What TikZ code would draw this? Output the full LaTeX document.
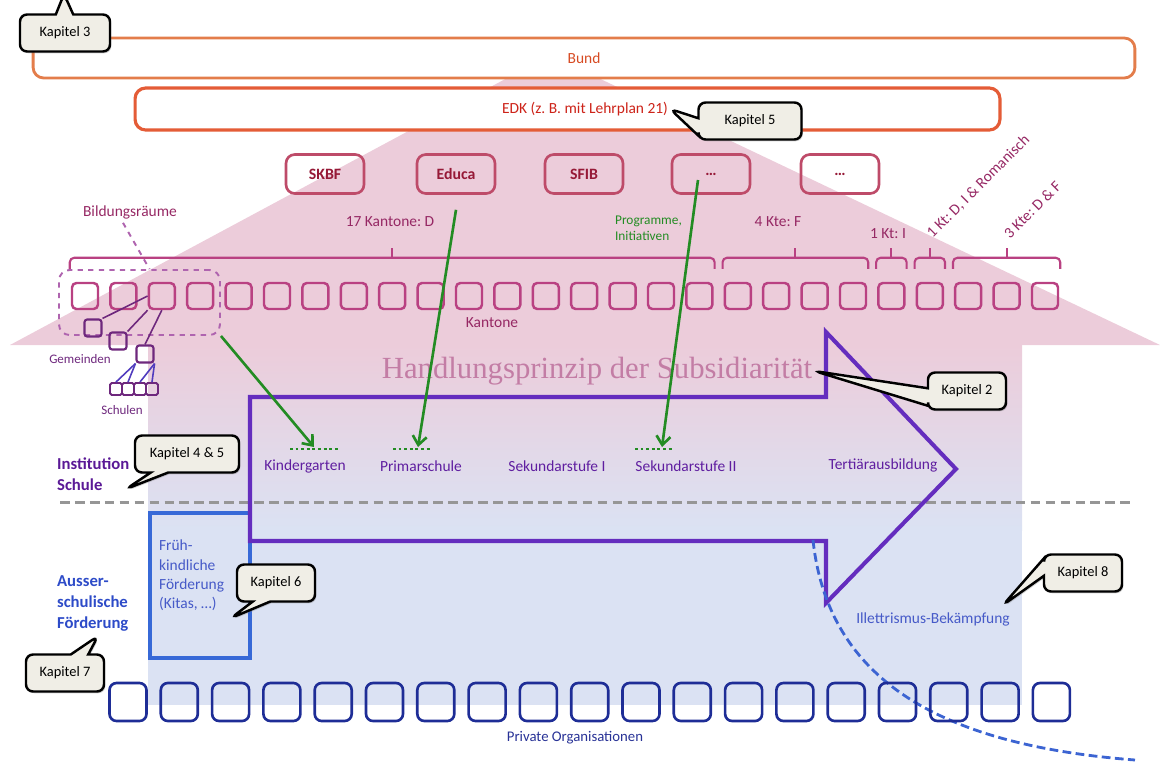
\documentclass[tikz,border=0pt]{standalone}
\usepackage{fontspec}
\setmainfont{Carlito}
\newfontfamily\prinzipfont{Liberation Serif}
\usetikzlibrary{positioning,calc,shapes.callouts,shadows,arrows.meta}
\frenchspacing

\definecolor{roofpink}{RGB}{236,204,218}
\definecolor{bodyblue}{RGB}{219,226,243}
\definecolor{bundcol}{RGB}{227,125,75}
\definecolor{bundtext}{RGB}{215,75,35}
\definecolor{edkcol}{RGB}{228,92,55}
\definecolor{edktext}{RGB}{205,35,25}
\definecolor{orgcol}{RGB}{190,75,105}
\definecolor{orgtext}{RGB}{150,25,55}
\definecolor{kantcol}{RGB}{185,65,130}
\definecolor{kanttext}{RGB}{150,40,100}
\definecolor{bildcol}{RGB}{175,100,175}
\definecolor{gemcol}{RGB}{110,40,125}
\definecolor{schulcol}{RGB}{80,60,190}
\definecolor{gcol}{RGB}{35,140,35}
\definecolor{prinzcol}{RGB}{195,125,165}
\definecolor{pfeilcol}{RGB}{100,45,190}
\definecolor{stufecol}{RGB}{95,30,160}
\definecolor{instcol}{RGB}{90,25,150}
\definecolor{fruehcol}{RGB}{55,105,215}
\definecolor{fruehtext}{RGB}{70,90,200}
\definecolor{aussercol}{RGB}{45,75,200}
\definecolor{privcol}{RGB}{30,45,150}
\definecolor{privtext}{RGB}{40,50,150}
\definecolor{illcol}{RGB}{60,100,210}
\definecolor{calloutbg}{RGB}{240,238,230}
\definecolor{sepcol}{RGB}{150,150,150}

\tikzset{
  lbl/.style={font=\fontsize{8.8}{10.5}\selectfont, inner sep=1pt},
  boldlbl/.style={font=\bfseries\fontsize{9.5}{12}\selectfont, inner sep=1pt, align=left},
  stufe/.style={lbl, text=stufecol},
  orgbox/.style={draw=orgcol, line width=1.5pt, rounded corners=5pt, minimum width=1.56cm,
    minimum height=0.78cm, text=orgtext, font=\bfseries\fontsize{9}{11}\selectfont},
  kanton/.style={draw=kantcol, line width=1.4pt, rounded corners=2.5pt, minimum size=0.52cm, inner sep=0pt},
  gemeinde/.style={draw=gemcol, line width=1.2pt, rounded corners=1.5pt, minimum size=0.34cm, inner sep=0pt},
  schule/.style={draw=gemcol, line width=1.1pt, rounded corners=1pt, minimum size=0.24cm, inner sep=0pt},
  privat/.style={draw=privcol, line width=1.5pt, rounded corners=4pt, minimum width=0.74cm,
    minimum height=0.76cm, inner sep=0pt},
  brace/.style={draw=kantcol, line width=1.2pt, rounded corners=2.5pt},
  garrow/.style={draw=gcol, line width=1.5pt, -{Straight Barb[length=5pt,width=8pt]}},
  gdots/.style={draw=gcol, line width=1.6pt, dash pattern=on 1.6pt off 1.6pt},
  bigarrow/.style={draw=pfeilcol, line width=2.3pt},
  kapitel/.style={rectangle callout, draw=black, line width=1.4pt, fill=calloutbg, rounded corners=4pt,
    minimum width=1.56cm, minimum height=0.74cm, callout pointer width=0.35cm,
    font=\fontsize{8.2}{10}\selectfont,
    drop shadow={opacity=0.35, shadow xshift=0.8pt, shadow yshift=-1pt}},
}

\begin{document}
\begin{tikzpicture}[x=0.02cm, y=-0.02cm]
	\useasboundingbox (0,0) rectangle (1160,765);

	% Haus
	\fill[roofpink] (10,345) -- (550,55) -- (1160,345) -- cycle;
	\shade[top color=roofpink, bottom color=bodyblue] (148,344) rectangle (1022,530);
	\fill[bodyblue] (148,529) rectangle (1022,705);

	% Bund und EDK
	\node[draw=bundcol, line width=1.6pt, fill=white, rounded corners=6pt, minimum width=22.04cm, minimum height=0.8cm] (bund) at (584,58) {};
	\node[lbl, text=bundtext] (bundtxt) at (bund.center) {Bund};
	\node[draw=edkcol, line width=1.8pt, fill=white, rounded corners=6pt, minimum width=17.3cm, minimum height=0.84cm] (edk) at (567.5,109) {};
	\node[lbl, text=edktext] (edktxt) at (585,109) {EDK (z. B. mit Lehrplan 21)};

	\foreach \n/\x/\t in {skbf/325/SKBF, educa/456/Educa, sfib/584/SFIB, etc1/711/…, etc2/840/…}
		\node[orgbox] (\n) at (\x,174) {\t};

	% Kantone
	\foreach \i in {1,...,26}
		\node[kanton] (k\i) at ({85+(\i-1)*38.4},296) {};
	\node[lbl, text=kanttext] (kantone) at (492,323) {Kantone};

	\foreach \a/\b in {1/17, 18/21, 22/22, 23/23, 24/26} {
		\draw[brace] ($(k\a.north west)+(-1,-13)$) |- ($(k\b.north east)+(1,-24)$) -- ++(0,11);
		\draw[brace] ($(k\a.north west)!0.5!(k\b.north east)+(0,-24)$) -- ++(0,-10);
	}
	\node[lbl, text=kanttext] (d17) at (390,222) {17 Kantone: D};
	\node[lbl, text=kanttext] (f4) at (778,222) {4 Kte: F};
	\node[lbl, text=kanttext] (i1) at (888,234) {1 Kt: I};
	\node[lbl, text=kanttext, rotate=45, anchor=west] (dir1) at (928,237) {1 Kt: D, I \& Romanisch};
	\node[lbl, text=kanttext, rotate=45, anchor=west] (df3) at (1005,237) {3 Kte: D \& F};
	\node[lbl, text=gcol, font=\fontsize{7.6}{9.2}\selectfont, align=left, anchor=west] (progr) at (613,228) {Programme,\\Initiativen};

	% Bildungsraeume, Gemeinden, Schulen
	\node[lbl, text=kanttext] (bildlbl) at (130,212) {Bildungsräume};
	\node[draw=bildcol, dashed, line width=1.1pt, rounded corners=6pt, minimum width=3.22cm, minimum height=1.3cm] (braum) at (139.5,302.5) {};
	\draw[draw=bildcol, dashed, line width=1.1pt] ($(bildlbl.south)+(-7,2)$) -- ($(braum.north)+(10,0)$);

	\node[gemeinde] (g1) at (93,328) {};
	\node[gemeinde] (g2) at (118,341) {};
	\node[gemeinde] (g3) at (145,354) {};
	\draw[gemcol, line width=0.9pt] (k3.west) -- (g1.north east);
	\draw[gemcol, line width=0.9pt] (k3.south west) -- (g2.north east);
	\draw[gemcol, line width=0.9pt] (k3.south) -- (g3.north);
	\foreach \i in {1,...,4}
		\node[schule] (s\i) at ({104+12*\i},389) {};
	\foreach \i/\a in {1/south west, 2/south west, 3/south east, 4/south east}
		\draw[schulcol, line width=0.9pt] (g3.\a) -- (s\i.north);
	\node[lbl, text=gemcol, font=\fontsize{7.4}{9}\selectfont] (gemlbl) at (80,359) {Gemeinden};
	\node[lbl, text=gemcol, font=\fontsize{7.4}{9}\selectfont] (schlbl) at (122,410) {Schulen};

	% Subsidiaritaet
	\node[font=\prinzipfont\fontsize{17.5}{20}\selectfont, text=prinzcol, inner sep=1pt] (prinzip) at (597,371) {Handlungsprinzip der Subsidiarität};

	\draw[sepcol, line width=1.7pt, dash pattern=on 5.5pt off 3pt] (60,502) -- (1135,502);

	% ausserschulisch
	\node[draw=fruehcol, line width=2.2pt, minimum width=2cm, minimum height=2.9cm] (frueh) at (200,585.5) {};
	\node[lbl, text=fruehtext, align=left, anchor=north west, font=\fontsize{8.8}{11}\selectfont] (fruehtxt) at (157,538) {Früh-\\kindliche\\Förderung\\(Kitas, …)};

	\draw[bigarrow] (250,397) -- (826,397) -- (826,332) -- (956,469) -- (826,603) -- (826,541) -- (250,541) -- cycle;

	\node[stufe] (kg) at (305,466) {Kindergarten};
	\node[stufe] (ps) at (421,466) {Primarschule};
	\node[stufe] (sek1) at (557,466) {Sekundarstufe I};
	\node[stufe] (sek2) at (686,466) {Sekundarstufe II};
	\node[stufe] (tert) at (883,465) {Tertiärausbildung};

	\node[boldlbl, text=instcol, anchor=north west] (inst) at (55,456) {Institution\\Schule};
	\node[boldlbl, text=aussercol, anchor=north west, font=\bfseries\fontsize{9.5}{11.7}\selectfont] (ausser) at (55,574) {Ausser-\\schulische\\Förderung};

	% Programme nach unten
	\coordinate (kgtip) at (314,447);
	\coordinate (pstip) at (418,447);
	\coordinate (s2tip) at (662,447);
	\draw[gdots] (290,449) -- (338,449);
	\draw[gdots] (393,449) -- (430,449);
	\draw[gdots] (635,449) -- (673,449);
	\draw[garrow] (braum.south east) -- (kgtip);
	\draw[garrow] ($(educa.south)+(0,15)$) -- (pstip);
	\draw[garrow] ($(etc1.center)+(-13,6)$) -- (s2tip);

	% Private Organisationen
	\coordinate (illstart) at (813,540);
	\coordinate (illend) at (1135,760);
	\draw[illcol, line width=1.6pt, dash pattern=on 5pt off 2.5pt] (illstart) .. controls (828,680) and (940,745) .. (illend);
	\foreach \i in {1,...,19}
		\node[privat] (p\i) at ({128+(\i-1)*51.3},702) {};
	\node[lbl, text=privtext, font=\fontsize{8.4}{10}\selectfont] (privlbl) at (575,738) {Private Organisationen};
	\node[lbl, text=fruehtext] (illet) at (933,619) {Illettrismus-Bekämpfung};

	% Kapitel
	\coordinate (k3tip) at (64,-6);
	\coordinate (k45tip) at (126,489);
	\coordinate (k6tip) at (231,618);
	\coordinate (k7tip) at (98,636);
	\coordinate (k8tip) at (1003,605);
	\node[kapitel, minimum width=1.8cm, callout absolute pointer=(k3tip)] (kap3) at (65,33) {Kapitel 3};
	\node[kapitel, minimum width=2.06cm, callout absolute pointer=(edktxt.east)] (kap5) at (750,121) {Kapitel 5};
	\node[kapitel, callout absolute pointer=(prinzip.east)] (kap2) at (967,391) {Kapitel 2};
	\node[kapitel, minimum width=2.08cm, callout absolute pointer=(k45tip)] (kap45) at (187,454) {Kapitel 4 \& 5};
	\node[kapitel, callout absolute pointer=(k6tip)] (kap6) at (276,583) {Kapitel 6};
	\node[kapitel, callout absolute pointer=(k7tip)] (kap7) at (65,673) {Kapitel 7};
	\node[kapitel, callout absolute pointer=(k8tip)] (kap8) at (1083,573) {Kapitel 8};
\end{tikzpicture}
\end{document}
